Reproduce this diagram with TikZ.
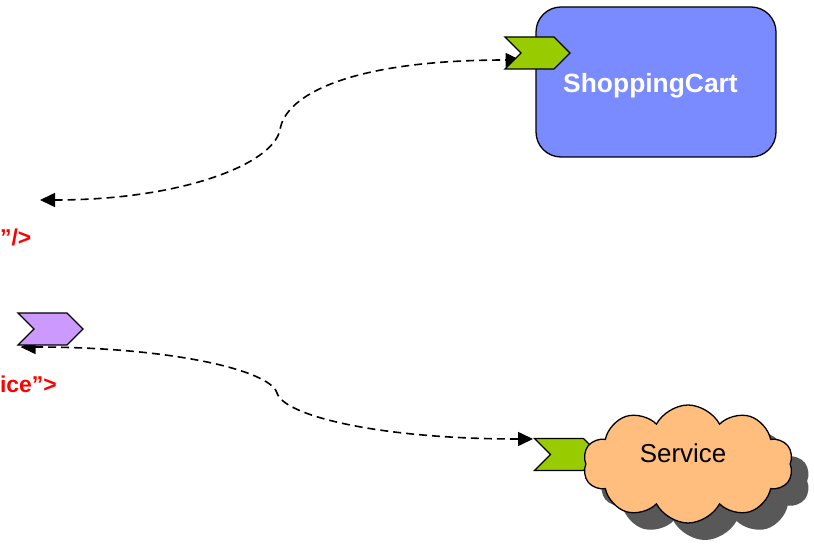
\documentclass[tikz,border=0pt]{standalone}
\usepackage{fontspec}
\setmainfont{Liberation Sans}
\usetikzlibrary{shapes.symbols,shadows,arrows.meta,backgrounds,calc}

\definecolor{portgreen}{RGB}{153,204,0}
\definecolor{portpurple}{RGB}{204,153,255}
\definecolor{cartblue}{RGB}{122,138,255}
\definecolor{cloudorange}{RGB}{255,190,125}
\definecolor{shadowgray}{RGB}{88,88,88}

\tikzset{
	port/.style={signal, signal to=east, signal from=west, signal pointer angle=90, draw=black, line width=1.3bp, minimum width=65bp, minimum height=32bp, inner sep=0pt},
	wire/.style={line width=1.6bp, dash pattern=on 8bp off 5bp, {Triangle[length=15bp,width=14bp]}-{Triangle[length=15bp,width=14bp]}},
	redtext/.style={text=red, font=\fontsize{23}{26}\selectfont\bfseries, inner sep=0pt, anchor=base east},
}

\begin{document}
\begin{tikzpicture}[x=1bp, y=-1bp]
	\useasboundingbox (0,0) rectangle (814,554);
	\node[draw, fill=cartblue, rounded corners=25bp, line width=1.3bp, minimum width=240bp, minimum height=150bp] (cart) at (656,82) {};
	\node[text=white, font=\fontsize{26.5}{30}\selectfont\bfseries, anchor=base, inner sep=0pt] (cartlbl) at (650.5,93) {ShoppingCart};
	\node[port, fill=portgreen] (cartport) at (537.5,53) {};
	\node[port, fill=portpurple] (refport) at (50.5,329) {};
	\node[port, fill=portgreen] (svcport) at (567,454.5) {};
	\node[cloud, cloud puffs=10, cloud puff arc=125, draw, line width=1.3bp, fill=cloudorange, minimum width=210bp, minimum height=118bp, drop shadow={shadow xshift=17bp, shadow yshift=-17bp, fill=shadowgray, opacity=1}] (svc) at (688,464) {};
	\node[font=\fontsize{26}{30}\selectfont, anchor=base, inner sep=0pt] (svclbl) at (683,462) {Service};
	\node[redtext] (refattr) at (31.5,246) {”/>};
	\node[redtext] (svcattr) at (57,392) {ice”>};
	\begin{scope}[on background layer]
		\coordinate (refend) at (40,200);
		\draw[wire] (refend) .. controls (180,200) and (272,165) .. (280,130) .. controls (285,95) and (350,60) .. ($(cartport.center)+(-17,7)$);
		\draw[wire] ($(refport.center)+(-30,18)$) .. controls (170,347) and (270,370) .. (277,393) .. controls (284,416) and (380,439) .. ($(svcport.center)+(-34,-15.5)$);
	\end{scope}
\end{tikzpicture}
\end{document}
